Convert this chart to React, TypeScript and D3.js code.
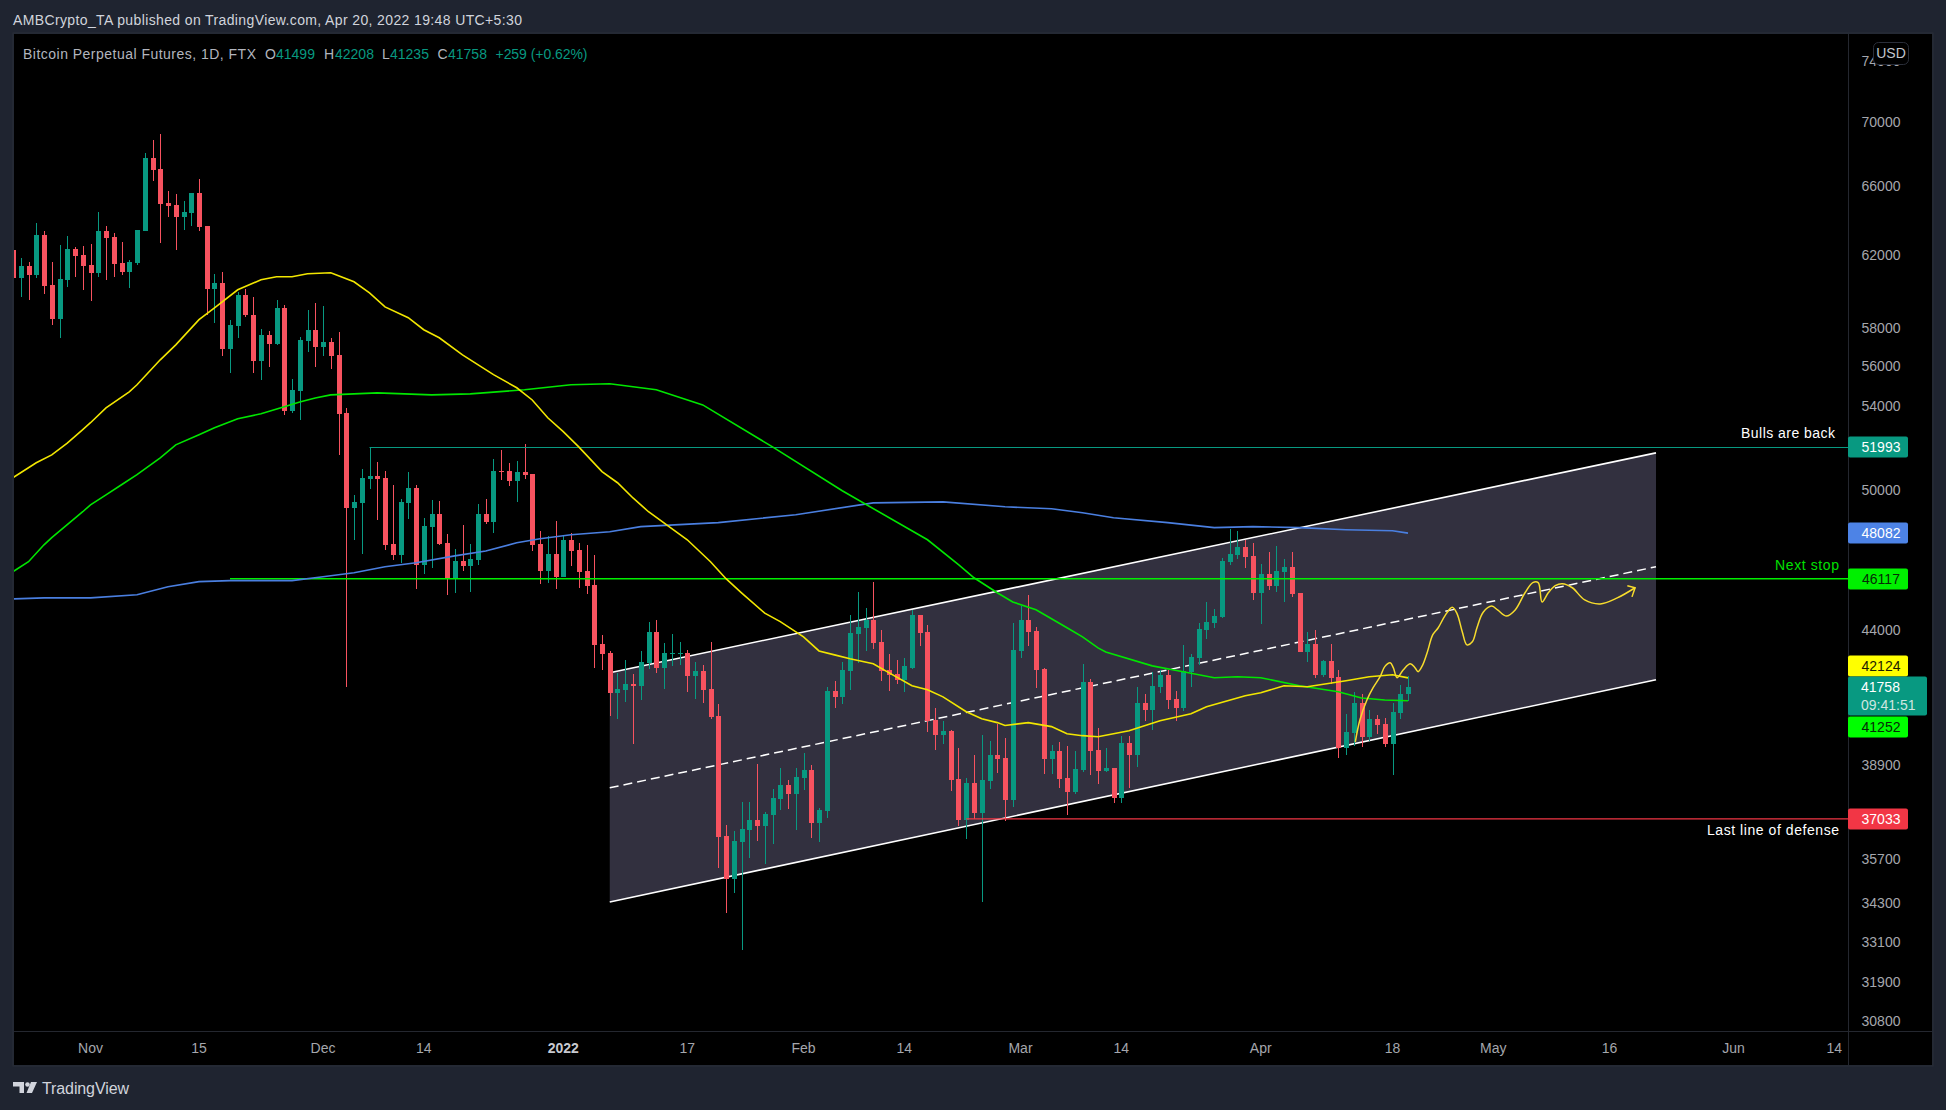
import { curveCatmullRom, line, scaleLog, scaleUtc, utcDay } from 'd3'

// daily candles, 22 Oct 2021 to 20 Apr 2022
const opens = [
    62275, 60718, 61370, 60884, 63148, 60328, 58485, 60606, 62333, 61997,
    61426, 60995, 63381, 63032, 61545, 61050, 61545, 63381, 67744, 67033, 65010, 64894, 64196, 64429, 65612, 63672, 60105, 60440, 56890, 58113, 59772, 58698, 56280, 57635, 57157, 59069, 53766, 54757, 57316, 57900,
    57000, 57263, 56584, 53670, 49206, 49427, 50532, 50670, 50580, 47613, 47135, 49427, 50116, 46712, 48366, 48940, 47657, 46120, 46882, 46670, 46924, 48940, 48587, 50900, 50900, 50440, 50858, 50764, 47613, 46458, 47170,
    46205, 47790, 47347, 46458, 45867, 43455, 43098, 41554, 41670, 41902, 41824, 42710, 43940, 42520, 43059, 43059, 43098, 42210, 42402, 41709, 40694, 36470, 35064, 36268, 36672, 37008, 36806, 37156, 37715, 38208, 37891,
    38455, 38730, 36908, 37293, 41631, 41400, 42402, 43860, 44100, 44430, 43536, 42440, 42286, 42056, 42520, 44600, 43940, 40546, 39995, 40140, 38420, 37008, 38280, 37225, 38349, 39265, 39160, 37680,
    43175, 44430, 43980, 42480, 39124, 39405, 38455, 37962, 38730, 41978, 39441, 38695, 38800, 37750, 39700, 39265, 41173, 40915, 41785, 42246, 41322, 40990, 42365, 42905, 44000, 44300, 44515, 46840, 47135, 47480, 47090,
    45530, 46333, 45825, 46416, 46627, 45530, 43135, 43455, 42246, 42790, 42170, 39515, 40070, 41173, 39920, 40583, 40400, 39662, 40800, 41499
]
const highs = [
    62275, 61814, 61608, 63846, 63381, 61608, 62566, 63090, 62450, 62508,
    62625, 64487, 63672, 63265, 62741, 61720, 63439, 68050, 68870, 69240, 65734, 65550, 65127, 65612, 66460, 63672, 60940, 61050, 58432, 59940, 60105, 59660, 57953, 57847, 59494, 59228, 55367, 57528, 58963, 59335,
    59175, 57475, 57794, 53912, 49792, 50998, 51993, 51320, 50900, 50254, 49606, 50858, 50254, 48762, 49560, 49516, 48056, 47391, 48454, 47613, 49383, 49606, 51460, 51876, 51274, 51367, 52167, 50764, 48188, 47968, 48630,
    48012, 48100, 47657, 47570, 47135, 43819, 43175, 42325, 42827, 42286, 43175, 44345, 44430, 43495, 43860, 43536, 43213, 42750, 42630, 43536, 41136, 36840, 36638, 37610, 37610, 38948, 37258, 38067, 38800, 38384, 38800,
    39330, 38910, 37398, 41785, 42017, 42750, 44600, 45572, 44895, 45995, 44000, 43059, 42827, 42905, 44830, 44600, 44220, 40990, 40510, 40177, 39515, 38455, 39265, 39995, 39773, 40400, 39885, 44300,
    44980, 45445, 44140, 42520, 39625, 39735, 39590, 39405, 42670, 42094, 40250, 39515, 38800, 39958, 39958, 41785, 41515, 42365, 42440, 42440, 41631, 43415, 43059, 44300, 45150, 44850, 47000, 48277, 48188, 47790, 47657,
    46755, 47260, 47525, 46966, 47260, 45530, 43940, 44000, 42827, 43455, 42440, 40767, 41592, 41515, 40915, 40730, 40620, 41173, 41860, 42208
]
const lows = [
    60718, 59660, 59494, 60718, 59828, 58166, 57475, 60217, 60773, 60050,
    59440, 60773, 60606, 60773, 60884, 60161, 61426, 63381, 66344, 62683, 64196, 62275, 63439, 63672, 63381, 58700, 58272, 56533, 55670, 57475, 58592, 55670, 55316, 55974, 57104, 53572, 53670, 53330, 56736, 55974,
    56533, 55874, 51645, 41785, 47790, 47178, 50070, 48674, 47347, 46924, 46797, 48718, 45698, 46333, 46585, 47570, 45445, 45530, 46458, 45572, 46712, 48498, 48100, 50486, 50208, 49471, 50532, 47303, 45910, 45952, 45698,
    46205, 46670, 45740, 45487, 42518, 42440, 40694, 40583, 41210, 39662, 41284, 42480, 42325, 41709, 42590, 42630, 41592, 41322, 41173, 40583, 35418, 33990, 34615, 32855, 35740, 36300, 35547, 36200, 37328, 37363, 36672,
    38032, 36400, 36268, 37050, 40990, 41136, 41670, 42710, 43175, 43253, 42017, 41631, 41902, 41592, 42480, 43375, 40105, 39441, 39662, 37997, 36806, 36365, 37021, 34325, 38067, 38630, 36975, 37434,
    42905, 43375, 41747, 38594, 38594, 38100, 37156, 37891, 38660, 38560, 38245, 38660, 37575, 37575, 38100, 38835, 40510, 40177, 41554, 40950, 40510, 40880, 41785, 42630, 43650, 44100, 44475, 46712, 46966, 46585, 45233,
    44260, 45656, 45572, 45150, 45360, 43135, 42750, 42130, 42170, 41902, 39160, 39265, 39590, 39550, 39773, 40030, 39550, 38560, 40583, 41235
]
const closes = [
    60718, 61370, 60884, 63148, 60272, 58485, 60662, 62333, 61941, 61370,
    60995, 63381, 62974, 61490, 61050, 61608, 63439, 67744, 66972, 64952, 64836, 64196, 64487, 65612, 63614, 60105, 60440, 56890, 58166, 59772, 58698, 56280, 57635, 57157, 59069, 53766, 54808, 57369, 57900, 57000,
    57263, 56533, 53620, 49206, 49471, 50580, 50670, 50532, 47570, 47135, 49471, 50116, 46712, 48410, 48940, 47613, 46120, 46882, 46670, 46966, 48940, 48587, 50900, 50858, 50440, 50858, 50718, 47570, 46458, 47170, 46205,
    47790, 47303, 46416, 45825, 43415, 43059, 41554, 41709, 41902, 41824, 42750, 43940, 42520, 43098, 43098, 43098, 42210, 42402, 41670, 40656, 36437, 35064, 36300, 36705, 37008, 36806, 37190, 37750, 38208, 37891, 38490,
    38730, 36908, 37328, 41631, 41400, 42440, 43900, 44140, 44430, 43495, 42402, 42246, 42056, 42590, 44600, 43900, 40510, 39995, 40140, 38384, 37008, 38280, 37225, 38384, 39265, 39124, 37680, 43213,
    44430, 43940, 42440, 39124, 39405, 38420, 37962, 38765, 41978, 39405, 38695, 38800, 37750, 39700, 39265, 41173, 40915, 41824, 42246, 41284, 40990, 42402, 42940, 44060, 44345, 44560, 46882, 47170, 47480, 47050, 45530,
    46333, 45825, 46458, 46627, 45487, 43135, 43455, 42246, 42790, 42130, 39515, 40105, 41173, 39920, 40583, 40360, 39662, 40840, 41515, 41758
]

// moving averages, read at these day numbers (days after 22 Oct 2021)
const yellowDays = [0, 3, 5, 7, 9, 10, 12, 15, 16, 19, 21, 24, 26, 29, 32, 34, 36, 38, 41, 42, 44, 46, 48, 51, 53, 55, 58, 62, 65, 67, 69, 71, 73, 76, 78, 80, 82, 87, 90, 92, 94, 97, 99, 102, 104, 106, 108, 111, 113, 116, 118, 120, 123, 125, 127, 128, 131, 134, 136, 138, 140, 144, 148, 152, 154, 159, 161, 164, 167, 172, 175, 178, 180]
const yellowMa = [50580, 51274, 51645, 52200, 52850, 53184, 53912, 54706, 55060, 56330, 57104, 58432, 59069, 60050, 60606, 60773, 60773, 60940, 60995, 60828, 60495, 59884, 59122, 58539, 57900, 57475, 56584, 55570, 54910, 54300, 53427, 52750, 52020, 50858, 50346, 49650, 49030, 47790, 46840, 46120, 45530, 44690, 44345, 43735, 43175, 43020, 42865, 42670, 42325, 41824, 41670, 41400, 40840, 40583, 40438, 40330, 40438, 40290, 40030, 39958, 39920, 40140, 40510, 40767, 41030, 41440, 41554, 41824, 41785, 42017, 42170, 42246, 42124]

const greenDays = [0, 2, 4, 5, 7, 9, 10, 12, 14, 16, 19, 21, 24, 26, 29, 32, 35, 37, 39, 41, 44, 47, 54, 59, 66, 72, 77, 83, 89, 98, 107, 118, 122, 124, 127, 129, 132, 134, 136, 138, 140, 141, 147, 151, 155, 158, 161, 166, 171, 174, 177, 180]
const greenMa = [46416, 46840, 47570, 47880, 48454, 49030, 49340, 49792, 50254, 50718, 51505, 52118, 52603, 52943, 53377, 53620, 53960, 54200, 54400, 54555, 54605, 54655, 54555, 54605, 54808, 55060, 55110, 54808, 54058, 52020, 49977, 47790, 46712, 46160, 45530, 45150, 44830, 44465, 44100, 43735, 43293, 43135, 42590, 42360, 42130, 42170, 42130, 41824, 41592, 41360, 41284, 41252]

const blueDays = [0, 4, 10, 16, 20, 24, 28, 36, 40, 44, 48, 52, 57, 61, 65, 68, 72, 77, 81, 91, 101, 111, 120, 128, 134, 138, 142, 149, 155, 160, 166, 172, 178, 180]
const blueMa = [45275, 45317, 45317, 45445, 45782, 45995, 46038, 46038, 46205, 46374, 46627, 46797, 47090, 47303, 47657, 47835, 48012, 48144, 48366, 48543, 48896, 49427, 49471, 49250, 49162, 48985, 48762, 48543, 48321, 48366, 48321, 48232, 48188, 48082]

// the channel drawing
const channelDays = [77, 212]
const channelUpper = [42325, 51738]
const channelMiddle = [38100, 46627]
const channelLower = [34326, 42056]

// the hand drawn path with its arrow head
const pathDays = [173.2, 173.8, 174.7, 175.5, 176.4, 177, 177.7, 178.1, 178.6, 179.4, 180.3, 180.9, 181.3, 181.9, 182.5, 183.2, 183.9, 184.8, 185.7, 186.3, 187, 187.6, 188.3, 188.9, 189.7, 190.8, 191.6, 192.7, 193.8, 195.1, 196.1, 196.8, 197.3, 198.1, 199, 199.9, 201.2, 202.8, 204.8, 207, 209.3]
const pathPrices = [39736, 40546, 41284, 41747, 42170, 42560, 42710, 42520, 42130, 42440, 42670, 42520, 42365, 42630, 43135, 43819, 44100, 44600, 44935, 44690, 43940, 43415, 43535, 44100, 44725, 44980, 44810, 44570, 44810, 45530, 45952, 45952, 45150, 45530, 45825, 45910, 45740, 45233, 45070, 45317, 45740]
const arrowDays = [208.3, 209.3, 208.9]
const arrowPrices = [45825, 45740, 45360]

// horizontal levels: first day, price
const bullsStart = 46
const nextStart = 28
const defenseStart = 123
const bullsLevel = 51993
const nextLevel = 46117
const defenseLevel = 37033

const priceTicks = [74000, 70000, 66000, 62000, 58000, 56000, 54000, 50000, 44000, 38900, 37200, 35700, 34300, 33100, 31900, 30800]
const timeTicks = ['2021-11-01', '2021-11-15', '2021-12-01', '2021-12-14', '2022-01-01', '2022-01-17', '2022-02-01', '2022-02-14', '2022-03-01', '2022-03-14', '2022-04-01', '2022-04-18', '2022-05-01', '2022-05-16', '2022-06-01', '2022-06-14']
const timeLabels = ['Nov', '15', 'Dec', '14', '2022', '17', 'Feb', '14', 'Mar', '14', 'Apr', '18', 'May', '16', 'Jun', '14']

const UP = '#089981'
const DOWN = '#f7525f'
const FONT = '"Liberation Sans", Arial, sans-serif'

const paneLeft = 14
const paneTop = 34
const paneRight = 1932
const paneBottom = 1065
const axisX = 1848
const axisY = 1031

const firstDay = new Date(Date.UTC(2021, 9, 22))
const lastDay = new Date(Date.UTC(2022, 5, 14))

const x = scaleUtc().domain([firstDay, lastDay]).range([13, 1834.25])
const y = scaleLog().domain([70000, 35700]).range([122, 859])

const dayX = (d: number) => x(new Date(firstDay.getTime() + d * 86400000))

const maLine = (days: number[], values: number[]) =>
    line<number>()
        .x(d => dayX(days[d]))
        .y(d => y(values[d]))(days.map((_, i) => i)) as string

function Tag({ price, color, text, cy }: { price: number, color: string, text: string, cy?: number }) {
    const c = cy ?? Math.round(y(price))
    return (
        <g>
            <rect x={axisX} y={c - 10.5} width={60} height={21} rx={2} fill={color} />
            <text x={1881} y={c} textAnchor="middle" dominantBaseline="central" fontSize={14} fill={text} fontFamily={FONT}>{price}</text>
        </g>
    )
}

export default function App() {
    const candles = opens.map((o, i) => ({ o, h: highs[i], l: lows[i], c: closes[i], day: utcDay.offset(firstDay, i) }))

    const channelTop = channelDays.map((d, i) => [dayX(d), y(channelUpper[i])])
    const channelBottom = channelDays.map((d, i) => [dayX(d), y(channelLower[i])])
    const polygon = [...channelTop, channelBottom[1], channelBottom[0]].map(p => p.join(',')).join(' ')

    const lastY = Math.round(y(closes[closes.length - 1]))

    const freehand = line<number>()
        .x(i => dayX(pathDays[i]))
        .y(i => y(pathPrices[i]))
        .curve(curveCatmullRom)(pathDays.map((_, i) => i)) as string
    const arrow = line<number>()
        .x(i => dayX(arrowDays[i]))
        .y(i => y(arrowPrices[i]))(arrowDays.map((_, i) => i)) as string

    return (
        <svg width={1946} height={1110} style={{ position: 'absolute', left: 0, top: 0, display: 'block' }}>
            <rect width={1946} height={1110} fill="#1f2430" />
            <rect x={paneLeft - 1} y={paneTop - 1} width={paneRight - paneLeft + 2} height={paneBottom - paneTop + 2} fill="none" stroke="#2a2e39" strokeWidth={1} />
            <rect x={paneLeft} y={paneTop} width={paneRight - paneLeft} height={paneBottom - paneTop} fill="#000" />
            <clipPath id="pane"><rect x={paneLeft} y={paneTop} width={axisX - paneLeft} height={axisY - paneTop} /></clipPath>

            <g clipPath="url(#pane)">
                <polygon points={polygon} fill="#32303f" />
                <line x1={channelTop[0][0]} y1={channelTop[0][1]} x2={channelTop[1][0]} y2={channelTop[1][1]} stroke="#fff" strokeWidth={1.6} />
                <line x1={channelBottom[0][0]} y1={channelBottom[0][1]} x2={channelBottom[1][0]} y2={channelBottom[1][1]} stroke="#fff" strokeWidth={1.6} />
                <line x1={dayX(channelDays[0])} y1={y(channelMiddle[0])} x2={dayX(channelDays[1])} y2={y(channelMiddle[1])} stroke="#fff" strokeWidth={1.5} strokeDasharray="9 5" />

                {candles.map((d, i) => {
                    const cx = Math.round(x(d.day))
                    const top = Math.round(y(Math.max(d.o, d.c)))
                    const bot = Math.round(y(Math.min(d.o, d.c)))
                    const color = d.c >= d.o ? UP : DOWN
                    return (
                        <g key={i} fill={color} shapeRendering="crispEdges">
                            <rect x={cx} y={y(d.h)} width={1} height={y(d.l) - y(d.h)} />
                            <rect x={cx - 2} y={top} width={5} height={Math.max(bot - top, 1)} />
                        </g>
                    )
                })}

                <line x1={dayX(bullsStart)} y1={y(bullsLevel)} x2={axisX} y2={y(bullsLevel)} stroke={UP} strokeWidth={1.2} />
                <line x1={dayX(nextStart)} y1={y(nextLevel)} x2={axisX} y2={y(nextLevel)} stroke="#00f000" strokeWidth={1.5} />
                <line x1={dayX(defenseStart)} y1={y(defenseLevel)} x2={axisX} y2={y(defenseLevel)} stroke="#f23645" strokeWidth={1.2} />

                <path d={maLine(blueDays, blueMa)} fill="none" stroke="#4a7fe0" strokeWidth={1.6} />
                <path d={maLine(greenDays, greenMa)} fill="none" stroke="#00e600" strokeWidth={1.6} />
                <path d={maLine(yellowDays, yellowMa)} fill="none" stroke="#f2e600" strokeWidth={1.6} />

                <path d={freehand} fill="none" stroke="#f7dc2d" strokeWidth={1.5} />
                <path d={arrow} fill="none" stroke="#f7dc2d" strokeWidth={1.5} />
            </g>

            <line x1={axisX + 0.5} y1={paneTop} x2={axisX + 0.5} y2={paneBottom} stroke="#24272f" />
            <line x1={paneLeft} y1={axisY + 0.5} x2={paneRight} y2={axisY + 0.5} stroke="#24272f" />

            {priceTicks.map(p => (
                <text key={p} x={1881} y={y(p)} textAnchor="middle" dominantBaseline="central" fontSize={14} fill="#a5a7ad" fontFamily={FONT}>{p}</text>
            ))}
            {timeTicks.map((t, i) => (
                <text key={t} x={x(new Date(t + 'T00:00:00Z'))} y={1048} textAnchor="middle" dominantBaseline="central" fontSize={14}
                    fontWeight={timeLabels[i] === '2022' ? 700 : 400} fill={timeLabels[i] === '2022' ? '#c8cad0' : '#a5a7ad'} fontFamily={FONT}>{timeLabels[i]}</text>
            ))}

            <text x={1835} y={433} textAnchor="end" dominantBaseline="central" fontSize={14} fill="#fff" fontFamily={FONT} textLength={94}>Bulls are back</text>
            <text x={1839} y={565} textAnchor="end" dominantBaseline="central" fontSize={14} fill="#00e000" fontFamily={FONT} textLength={64}>Next stop</text>
            <text x={1839} y={830} textAnchor="end" dominantBaseline="central" fontSize={14} fill="#fff" fontFamily={FONT} textLength={132}>Last line of defense</text>

            <Tag price={bullsLevel} color={UP} text="#fff" />
            <Tag price={48082} color="#4d83e6" text="#fff" />
            <Tag price={nextLevel} color="#00f000" text="#062b06" />
            <Tag price={defenseLevel} color="#f23645" text="#fff" />
            <Tag price={42124} color="#ffff00" text="#1c1c00" cy={lastY - 21} />
            <Tag price={41252} color="#00ff00" text="#062b06" cy={lastY + 40} />
            <rect x={axisX} y={lastY - 10.5} width={79} height={39} rx={2} fill={UP} />
            <text x={1861} y={lastY} dominantBaseline="central" fontSize={14} fill="#fff" fontFamily={FONT}>{closes[closes.length - 1]}</text>
            <text x={1861} y={lastY + 18} dominantBaseline="central" fontSize={14} fill="#cfe6e0" fontFamily={FONT}>09:41:51</text>

            <rect x={1873.5} y={42.5} width={35} height={22} rx={5} fill="#000" stroke="#2a2e39" />
            <text x={1891} y={53} textAnchor="middle" dominantBaseline="central" fontSize={14} fill="#c3c6ce" fontFamily={FONT}>USD</text>

            <text x={13} y={20} dominantBaseline="central" fontSize={14} fill="#d1d4dc" fontFamily={FONT} textLength={509}>AMBCrypto_TA published on TradingView.com, Apr 20, 2022 19:48 UTC+5:30</text>

            <g fontFamily={FONT} fontSize={14}>
                <text x={23} y={54} dominantBaseline="central" fill="#b2b5be" textLength={233}>Bitcoin Perpetual Futures, 1D, FTX</text>
                <text x={265} y={54} dominantBaseline="central" fill="#b2b5be">O</text>
                <text x={276} y={54} dominantBaseline="central" fill={UP}>{opens[opens.length - 1]}</text>
                <text x={324} y={54} dominantBaseline="central" fill="#b2b5be">H</text>
                <text x={335} y={54} dominantBaseline="central" fill={UP}>{highs[highs.length - 1]}</text>
                <text x={382} y={54} dominantBaseline="central" fill="#b2b5be">L</text>
                <text x={390} y={54} dominantBaseline="central" fill={UP}>{lows[lows.length - 1]}</text>
                <text x={437.5} y={54} dominantBaseline="central" fill="#b2b5be">C</text>
                <text x={448} y={54} dominantBaseline="central" fill={UP}>{closes[closes.length - 1]}</text>
                <text x={495.5} y={54} dominantBaseline="central" fill={UP} textLength={92}>+259 (+0.62%)</text>
            </g>

            <g fill="#d1d4dc">
                <path d="M13 1082h11v11h-4.5v-6.5H13z" />
                <circle cx={27.5} cy={1084.5} r={2.3} />
                <path d="M31 1082h6l-5 11h-5.5z" />
            </g>
            <text x={42} y={1088} dominantBaseline="central" fontSize={16} fill="#d1d4dc" fontFamily={FONT} textLength={87}>TradingView</text>
        </svg>
    )
}
